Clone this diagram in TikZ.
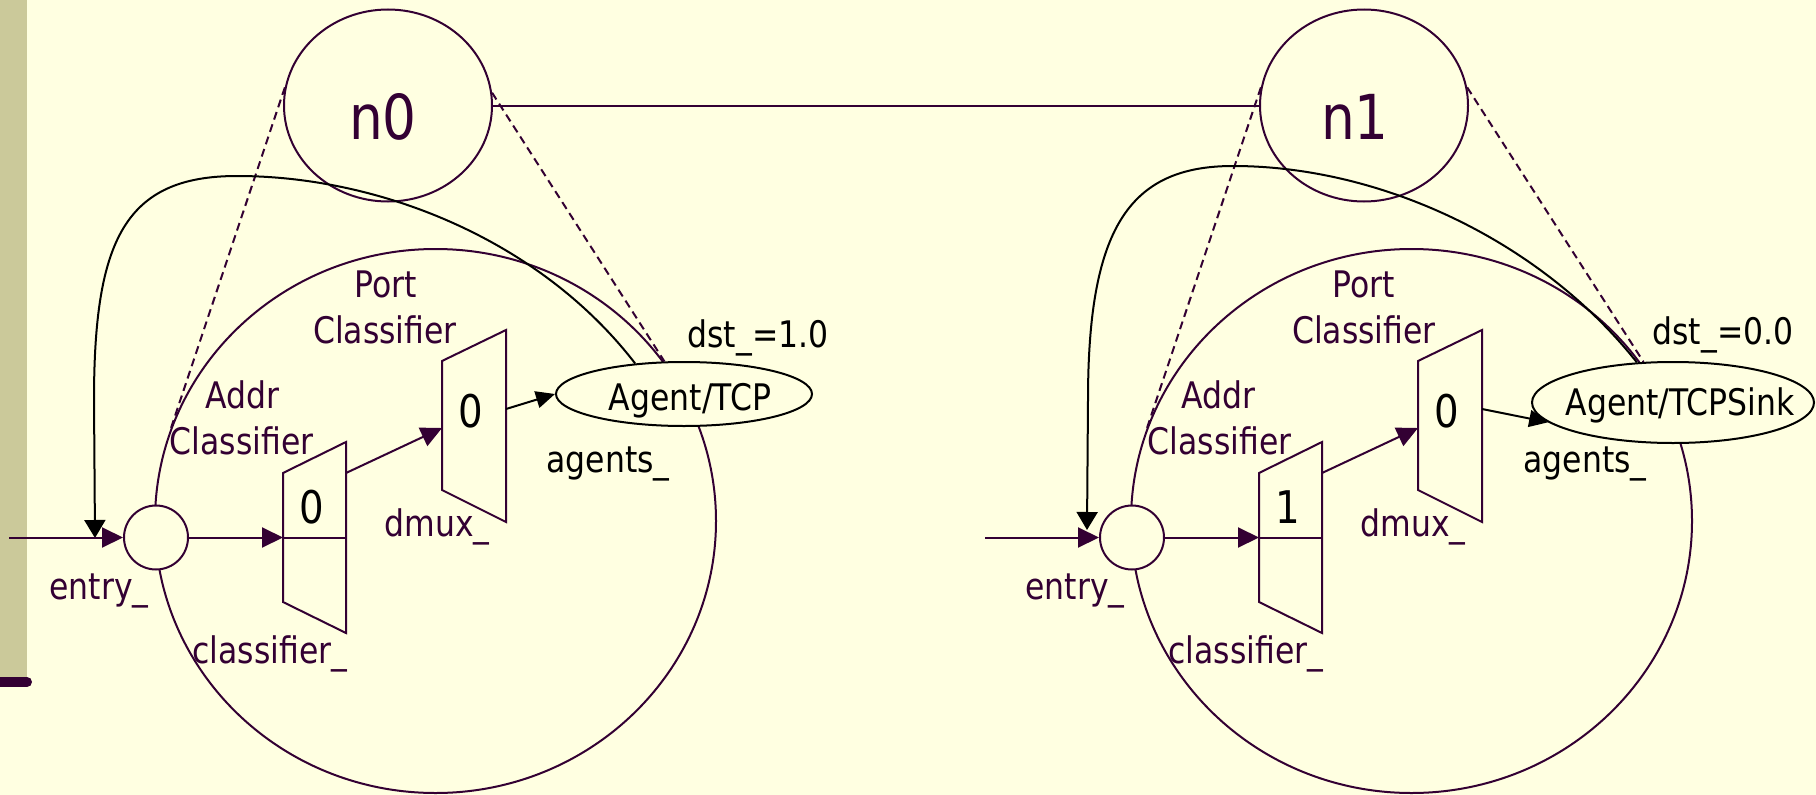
\documentclass[tikz,border=0pt]{standalone}
\usepackage{fontspec}
\setmainfont{DejaVu Sans}[FakeStretch=0.86]
\usetikzlibrary{arrows.meta,shapes.geometric}
\definecolor{bg}{RGB}{255,255,225}
\definecolor{pline}{RGB}{51,0,51}
\definecolor{barc}{RGB}{203,201,154}
\begin{document}
\begin{tikzpicture}[x=1pt,y=-1pt,
  pl/.style={draw=pline, line width=2pt},
  lbl/.style={font=\fontsize{36.6}{44}\selectfont, text=pline, inner sep=0pt, anchor=base},
  blbl/.style={lbl, text=black},
  digit/.style={font=\fontsize{45}{54}\selectfont, text=black, inner sep=0pt, anchor=base},
  bigl/.style={font=\fontsize{62}{70}\selectfont, text=pline, inner sep=0pt, anchor=base},
  parr/.style={pl, -{Triangle[length=21pt,width=20pt]}},
  karr/.style={draw=black, line width=2pt, -{Triangle[length=19pt,width=17pt]}},
  barr/.style={draw=black, line width=2pt, -{Triangle[length=18pt,width=21pt]}},
  dsh/.style={pl, dash pattern=on 8pt off 5pt},
  trap/.style={pl, fill=bg, line join=miter},
  node0/.style={ellipse, pl, minimum width=208pt, minimum height=192pt, inner sep=0pt},
  bigc/.style={ellipse, pl, minimum width=561pt, minimum height=544pt, inner sep=0pt},
  entryc/.style={circle, pl, fill=bg, minimum size=64pt, inner sep=0pt},
  agentc/.style={ellipse, draw=black, line width=2pt, fill=bg, inner sep=0pt}
]
\useasboundingbox (0,0) rectangle (1816,795);
\fill[bg] (0,0) rectangle (1816,795);
\fill[barc] (0,0) rectangle (26.7,678);
\draw[line width=10pt, draw=pline, line cap=round] (0,682) -- (27,682);

% big inner circles
\node[bigc] (b0) at (435.5,521) {};
\node[bigc] (b1) at (1411.5,521) {};

% top nodes
\node[node0] (n0) at (388,105.5) {};
\node[node0] (n1) at (1364,105.5) {};
\draw[pl] (n0.east) -- (n1.west);

% coordinates
\coordinate (dl0) at (171,428);
\coordinate (dl1) at (1147,428);
\coordinate (fb0) at (95,538);
\coordinate (fb1) at (1087,530);
\coordinate (in0) at (9,537.5);
\coordinate (in1) at (985,537.5);

% agents
\node[agentc, minimum width=256pt, minimum height=64pt] (ag0) at (684,394) {};
\node[agentc, minimum width=282pt, minimum height=81pt] (ag1) at (1673,402.5) {};

% dashed zoom lines
\draw[dsh] (n0.170) -- (dl0);
\draw[dsh] (n0.7) -- (ag0.121);
\draw[dsh] (n1.170) -- (dl1);
\draw[dsh] (n1.10) -- (ag1.126);

% feedback curves
\draw[barr] (ag0.148) .. controls (540,240) and (380,176) .. (237,176)
  .. controls (125,176) and (94,240) .. (94,400) -- (fb0);
\draw[barr] (ag1.132) .. controls (1540,240) and (1380,166) .. (1233,166)
  .. controls (1128,166) and (1088,230) .. (1088,400) -- (fb1);

% entry circles
\node[entryc] (e0) at (156,537.5) {};
\node[entryc] (e1) at (1132,537.5) {};

% classifiers (left)
\draw[trap] (283,473) coordinate (c0nw) -- (346,442) -- (346,633) -- (283,602) -- cycle;
\coordinate (c0w) at (283,537.5);
\coordinate (c0e) at (346,537.5);
\coordinate (c0o) at (346,473);
\draw[pl] (c0w) -- (c0e);
\draw[trap] (442,361) -- (506,330) -- (506,522) -- (442,490) -- cycle;
\coordinate (m0i) at (442,428);
\coordinate (m0o) at (506,409);

% classifiers (right)
\draw[trap] (1259,473) -- (1322,442) -- (1322,633) -- (1259,602) -- cycle;
\coordinate (c1w) at (1259,537.5);
\coordinate (c1e) at (1322,537.5);
\coordinate (c1o) at (1322,473);
\draw[pl] (c1w) -- (c1e);
\draw[trap] (1418,361) -- (1482,330) -- (1482,522) -- (1418,490) -- cycle;
\coordinate (m1i) at (1418,428);
\coordinate (m1o) at (1482,409);

% arrows
\draw[parr] (in0) -- (e0.west);
\draw[parr] (e0.east) -- (c0w);
\draw[parr] (c0o) -- (m0i);
\draw[karr] (m0o) -- (ag0.west);
\draw[parr] (in1) -- (e1.west);
\draw[parr] (e1.east) -- (c1w);
\draw[parr] (c1o) -- (m1i);
\draw[karr] (m1o) -- (ag1.189);

% labels left
\node[bigl] (t0) at (383,139) {n0};
\node[lbl] (pc0a) at (386,297) {Port};
\node[lbl] (pc0b) at (385,343) {Classifier};
\node[lbl] (ac0a) at (242,408) {Addr};
\node[lbl] (ac0b) at (241.5,454) {Classifier};
\node[lbl] (cl0) at (270,663) {classifier\_};
\node[lbl] (dm0) at (437,536) {dmux\_};
\node[lbl] (en0) at (99,599) {entry\_};
\node[blbl] (ags0) at (608,472) {agents\_};
\node[blbl] (dst0) at (758,347) {dst\_=1.0};
\node[blbl] (agt0) at (690,410) {Agent/TCP};
\node[digit] (d0) at (312,523) {0};
\node[digit] (dd0) at (471,427) {0};

% labels right
\node[bigl] (t1) at (1355,139) {n1};
\node[lbl] (pc1a) at (1364,297) {Port};
\node[lbl] (pc1b) at (1364,343) {Classifier};
\node[lbl] (ac1a) at (1218,408) {Addr};
\node[lbl] (ac1b) at (1219.5,454) {Classifier};
\node[lbl] (cl1) at (1246,663) {classifier\_};
\node[lbl] (dm1) at (1413,536) {dmux\_};
\node[lbl] (en1) at (1075,599) {entry\_};
\node[blbl] (ags1) at (1585,472) {agents\_};
\node[blbl] (dst1) at (1723,344) {dst\_=0.0};
\node[blbl] (agt1) at (1680,415) {Agent/TCPSink};
\node[digit] (d1) at (1288,523) {1};
\node[digit] (dd1) at (1447,427) {0};
\end{tikzpicture}
\end{document}
